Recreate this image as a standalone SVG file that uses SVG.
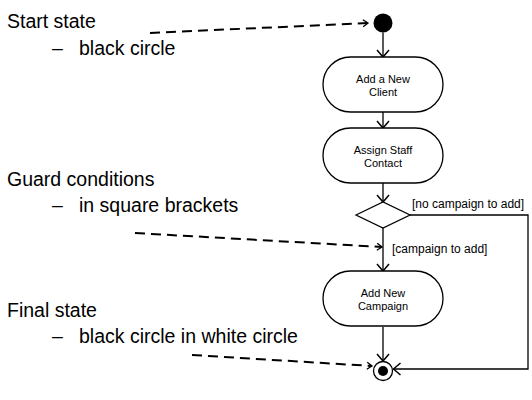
<svg xmlns="http://www.w3.org/2000/svg" width="532" height="400" viewBox="0 0 532 400">
<defs>
<style>
.big{font-family:"Liberation Sans",Arial,sans-serif;font-size:19.5px;fill:#000}
.nt{font-family:"Liberation Sans",Arial,sans-serif;font-size:11px;fill:#000;text-anchor:middle}
.gd{font-family:"Liberation Sans",Arial,sans-serif;font-size:12px;fill:#000}
.node{fill:#fff;stroke:#000;stroke-width:1.3}
.flow{fill:none;stroke:#000;stroke-width:1.3;marker-end:url(#open)}
.note{fill:none;stroke:#000;stroke-width:2;stroke-dasharray:10 6;marker-end:url(#small)}
</style>
<marker id="open" markerUnits="userSpaceOnUse" markerWidth="16" markerHeight="16" viewBox="-10 -8 12 16" refX="0" refY="0" orient="auto" overflow="visible">
<path d="M-7,-6 L0,0 L-7,6" fill="none" stroke="#000" stroke-width="1.5"/>
</marker>
<marker id="small" markerUnits="userSpaceOnUse" markerWidth="10" markerHeight="10" viewBox="-7 -5 9 10" refX="0" refY="0" orient="auto" overflow="visible">
<path d="M-5,-3.5 L0,0 L-5,3.5" fill="none" stroke="#000" stroke-width="1.3"/>
</marker>
</defs>
<rect width="532" height="400" fill="#fff"/>

<g id="notes">
<text class="big" x="7" y="27.5">Start state</text>
<text class="big" y="55"><tspan x="52">–</tspan><tspan x="79">black circle</tspan></text>
<text class="big" x="7" y="186">Guard conditions</text>
<text class="big" y="212"><tspan x="52">–</tspan><tspan x="79">in square brackets</tspan></text>
<text class="big" x="7" y="317">Final state</text>
<text class="big" y="343"><tspan x="52">–</tspan><tspan x="79">black circle in white circle</tspan></text>
</g>

<g id="connectors">
<path class="flow" d="M383,32.5 V57"/>
<path class="flow" d="M383,112 V128"/>
<path class="flow" d="M383,183 V202"/>
<path class="flow" d="M383,228 V271"/>
<path class="flow" d="M383,327 V361"/>
<path class="flow" d="M410,215 H528 V369 H393.5"/>
<path class="note" d="M150,33 L368,23"/>
<path class="note" d="M135,233 L382,247"/>
<path class="note" d="M192,355 L372,366"/>
<text class="gd" x="412" y="207.5">[no campaign to add]</text>
<text class="gd" x="392" y="253">[campaign to add]</text>
</g>

<g id="start">
<circle cx="383" cy="23" r="9.5" fill="#000"/>
</g>

<g id="add-client">
<rect class="node" x="323" y="57" width="120" height="55" rx="27.5"/>
<text class="nt" x="383" y="83">Add a New</text>
<text class="nt" x="383" y="96">Client</text>
</g>

<g id="assign-staff">
<rect class="node" x="323" y="128" width="120" height="55" rx="27.5"/>
<text class="nt" x="383" y="154">Assign Staff</text>
<text class="nt" x="383" y="167">Contact</text>
</g>

<g id="decision">
<polygon class="node" points="356,215 383,202 410,215 383,228"/>
</g>

<g id="add-campaign">
<rect class="node" x="323" y="271" width="120" height="55" rx="27.5"/>
<text class="nt" x="383" y="297">Add New</text>
<text class="nt" x="383" y="310">Campaign</text>
</g>

<g id="final">
<circle cx="383" cy="371" r="9.5" fill="#fff" stroke="#000" stroke-width="1.3"/>
<circle cx="383" cy="371" r="5" fill="#000"/>
</g>
</svg>
